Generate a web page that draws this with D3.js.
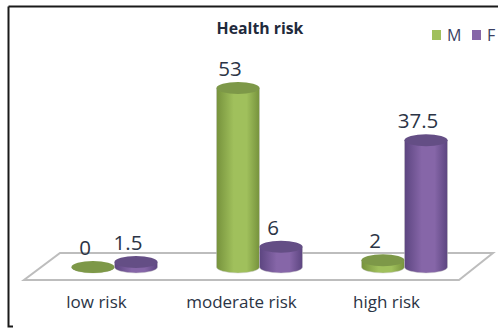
<!DOCTYPE html>
<html>
<head>
<meta charset="utf-8">
<script src="https://cdnjs.cloudflare.com/ajax/libs/d3/7.8.5/d3.min.js"></script>
<style>
  html, body { margin: 0; padding: 0; background: #fff; }
  svg { display: block; font-family: "Open Sans", Lato, sans-serif; }
</style>
</head>
<body>
<svg id="chart" width="498" height="328"></svg>
<script>
const categories = ["low risk", "moderate risk", "high risk"];
const seriesNames = ["M", "F"];
const valuesM = [0, 53, 2];
const valuesF = [1.5, 6, 37.5];
const seriesValues = { M: valuesM, F: valuesF };
const seriesColors = { M: "#a0c05c", F: "#8666a8" };
const seriesEdges = { M: "#76923c", F: "#5c4580" };
const seriesTops = { M: "#7d9848", F: "#644e85" };

const svg = d3.select("#chart");

// Frame: open on the right, as a cropped box
svg.append("path")
  .attr("d", "M8.5,6.5H498M8.5,6.5V326.5H13")
  .attr("fill", "none").attr("stroke", "#1a1a1a").attr("stroke-width", 2);

// Scales: categories run along the front edge of the floor, columns sit further back
const floorFront = [24, 459];
const depth = 18;
const x0 = d3.scaleBand().domain(categories).range(floorFront);
const barWidth = 43;
const x1 = d3.scaleBand().domain(seriesNames).range([-barWidth, barWidth]);
const baseY = 267;
const y = d3.scaleLinear().domain([0, 53]).range([baseY, 88]);
const rx = barWidth / 2, ry = 6;

// Horizontal shading that gives the columns their rounded look
const defs = svg.append("defs");
seriesNames.forEach(s => {
  const g = defs.append("linearGradient").attr("id", "grad" + s);
  [[0, seriesEdges[s]], [0.4, seriesColors[s]], [0.7, seriesColors[s]], [1, seriesEdges[s]]]
    .forEach(([o, c]) => g.append("stop").attr("offset", o).attr("stop-color", c));
});

// Floor plane
const floor = [[24, 280], [459, 280], [493, 253], [60, 253]];
svg.append("path")
  .attr("d", d3.line()(floor) + "Z")
  .attr("fill", "none").attr("stroke", "#bdbdbd").attr("stroke-width", 2);

// Category labels
const axis = d3.axisBottom(x0).tickSize(0).tickPadding(0);
const axisG = svg.append("g").attr("transform", "translate(0,296)").call(axis);
axisG.select(".domain").remove();
axisG.selectAll("text")
  .attr("font-family", "'Open Sans', Lato, sans-serif")
  .attr("font-size", 17).attr("fill", "#2b3445");

// Columns
const columnCenter = (cat, s) => x0(cat) + x0.bandwidth() / 2 + depth + x1(s) + x1.bandwidth() / 2;
const rows = categories.flatMap((cat, i) =>
  seriesNames.map(s => ({ cat, s, v: seriesValues[s][i] })));

const bars = svg.append("g").selectAll("g").data(rows).join("g");

bars.append("path")
  .attr("d", d => {
    const cx = columnCenter(d.cat, d.s), t = y(d.v);
    return `M${cx - rx},${t}L${cx - rx},${baseY}A${rx},${ry} 0 0 0 ${cx + rx},${baseY}L${cx + rx},${t}Z`;
  })
  .attr("fill", d => `url(#grad${d.s})`)
  .attr("stroke", "#c9c9c9").attr("stroke-opacity", 0.6).attr("stroke-width", 0.8);

bars.append("ellipse")
  .attr("cx", d => columnCenter(d.cat, d.s))
  .attr("cy", d => y(d.v))
  .attr("rx", rx).attr("ry", ry)
  .attr("fill", d => seriesTops[d.s]);

// Value labels, nudged left of the column centre
svg.append("g").selectAll("text").data(rows).join("text")
  .attr("x", d => columnCenter(d.cat, d.s) - 8)
  .attr("y", d => y(d.v) - 12)
  .attr("text-anchor", "middle")
  .attr("font-size", 20.5).attr("fill", "#2b3445")
  .text(d => d.v);

// Title
svg.append("text")
  .attr("x", 260).attr("y", 34)
  .attr("text-anchor", "middle")
  .attr("font-size", 15.8).attr("font-weight", 700).attr("fill", "#1f2a3c")
  .text("Health risk");

// Legend
const legendX = d3.scaleOrdinal().domain(seriesNames).range([432, 472]);
const legend = svg.append("g").selectAll("g").data(seriesNames).join("g")
  .attr("transform", d => `translate(${legendX(d)},30)`);
legend.append("rect").attr("width", 9).attr("height", 10).attr("fill", d => seriesColors[d]);
legend.append("text")
  .attr("x", 15).attr("y", 11)
  .attr("font-size", 16).attr("fill", "#3a3f63")
  .text(d => d);
</script>
</body>
</html>
